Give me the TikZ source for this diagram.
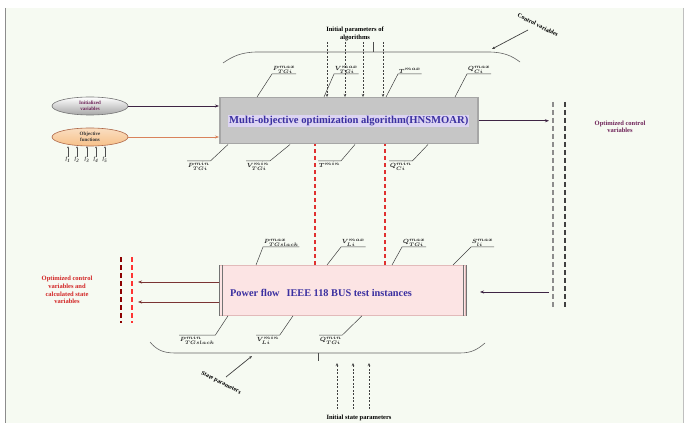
\documentclass[tikz,border=0pt]{standalone}
\usepackage{fontspec}
\setmainfont{Liberation Serif}
\usetikzlibrary{arrows.meta,shapes.geometric}
\definecolor{bgc}{HTML}{F6FAF2}
\definecolor{mainfill}{HTML}{C6C6C6}
\definecolor{mainborder}{HTML}{A6A6A6}
\definecolor{pffill}{HTML}{FCE4E4}
\definecolor{pfborder}{HTML}{E2BABA}
\definecolor{bluetxt}{HTML}{3A2FA0}
\definecolor{hlc}{HTML}{DCD4F2}
\definecolor{purp}{HTML}{6E2258}
\definecolor{redtxt}{HTML}{D22424}
\definecolor{darkred}{HTML}{7A3434}
\definecolor{orng}{HTML}{D9825B}
\definecolor{objfill}{HTML}{F6C898}
\definecolor{inarrow}{HTML}{3E2444}
\definecolor{rdc}{HTML}{E03030}
\tikzset{
  lab/.style={font=\fontsize{6.3}{7}\selectfont\bfseries\boldmath, inner sep=0.6pt, text=black!85},
  ldr/.style={draw=black!75, line width=0.5pt},
  brk/.style={draw=black!60, line width=0.6pt},
  small/.style={font=\fontsize{6.5}{7.5}\selectfont\bfseries, align=center, inner sep=0pt},
  darr/.style={draw=black!75, line width=0.7pt, dash pattern=on 2pt off 1.5pt, -{Stealth[length=3pt,width=2.5pt]}},
  rdash/.style={draw=rdc, line width=1.4pt, dash pattern=on 4pt off 3pt},
  coldash/.style={line width=1.6pt, dash pattern=on 5pt off 3pt},
  arr/.style={line width=0.8pt, -{Stealth[length=4pt,width=3pt]}},
}
\begin{document}
\begin{tikzpicture}[x=1pt,y=-1pt]
\useasboundingbox (0,0) rectangle (684,427);
\fill[white] (0,0) rectangle (684,427);
\fill[bgc] (5,8) rectangle (684,423);
\draw[black!45, line width=1pt] (5,8) -- (5,423);
\draw[black!25, line width=0.8pt] (683,8) -- (683,423);

% ---------- main box ----------
\node[draw=mainborder, fill=mainfill, line width=1.5pt, minimum width=258, minimum height=46, anchor=north west, inner sep=0] (mb) at (219,97) {};
\node[fill=hlc, inner sep=1pt, text=bluetxt, font=\fontsize{10.6}{11}\selectfont\bfseries] (mbt) at (mb.center) {Multi-objective optimization algorithm(HNSMOAR)};

% ---------- power-flow box ----------
\node[draw=pfborder, fill=pffill, line width=0.8pt, minimum width=246, minimum height=50, anchor=north west, inner sep=0] (pf) at (219,265) {};
\draw[black!55, line width=0.6pt] (pf.north west) -- (pf.south west);
\draw[black!55, line width=0.6pt] ([xshift=3pt]pf.north west) -- ([xshift=3pt]pf.south west);
\draw[black!55, line width=0.6pt] (pf.north east) -- (pf.south east);
\draw[black!55, line width=0.6pt] ([xshift=-3pt]pf.north east) -- ([xshift=-3pt]pf.south east);
\node[anchor=west, text=bluetxt, font=\fontsize{10.3}{11}\selectfont\bfseries, inner sep=0] (pft) at (230,293) {Power flow\ \ \,IEEE 118 BUS test instances};

% ---------- top bracket ----------
\draw[brk] (223,63) .. controls (233,56) and (242,52) .. (258,52) -- (488,52) .. controls (504,52) and (512,56) .. (520,62);
\node[small] (ipa) at (355,34) {Initial parameters of\\algorithms};
\coordinate (ip1) at (327,42);
\coordinate (ip2) at (345,42);
\coordinate (ip3) at (363,42);
\coordinate (ip4) at (383,42);
\foreach \c in {ip1,ip2,ip3,ip4} \draw[darr] (\c) -- (\c |- mb.north);
\draw[black!70, line width=0.6pt] (373,42) -- (373,52);

\node[small, rotate=-27, font=\fontsize{6}{7}\selectfont\bfseries] (cv) at (538,25) {Control variables};
\coordinate (cvs) at (528,30);
\coordinate (cve) at (492,49);
\draw[black!75, line width=0.7pt, -{Stealth[length=3pt,width=2.5pt]}] (cvs) -- (cve);

% ---------- main box top labels ----------
\node[lab, anchor=south west] (t1) at (272,74) {$P_{TGi}^{max}$};
\node[lab, anchor=south west] (t2) at (334,74) {$V_{TGi}^{max}$};
\node[lab, anchor=south west] (t3) at (398,74) {$T^{max}$};
\node[lab, anchor=south west] (t4) at (467,74) {$Q_{Ci}^{max}$};
\draw[ldr] (t1.south east) -- (t1.south west) -- (257,0 |- mb.north);
\draw[ldr] (t2.south east) -- (t2.south west) -- (324,0 |- mb.north);
\draw[ldr] (t3.south east) -- (t3.south west) -- (386,0 |- mb.north);
\draw[ldr] (t4.south east) -- (t4.south west) -- (455,0 |- mb.north);

% ---------- main box bottom labels ----------
\node[lab, anchor=north west] (b1) at (187,161) {$P_{TGi}^{min}$};
\node[lab, anchor=north west] (b2) at (246,161) {$V_{TGi}^{min}$};
\node[lab, anchor=north west] (b3) at (318,161) {$T^{min}$};
\node[lab, anchor=north west] (b4) at (389,161) {$Q_{Ci}^{min}$};
\draw[ldr] (b1.north west) -- (b1.north east) -- (228,0 |- mb.south);
\draw[ldr] (b2.north west) -- (b2.north east) -- (290,0 |- mb.south);
\draw[ldr] (b3.north west) -- (b3.north east) -- (355,0 |- mb.south);
\draw[ldr] (b4.north west) -- (b4.north east) -- (428,0 |- mb.south);

% ---------- red dashed links between boxes ----------
\coordinate (rd1) at (315,0 |- pf.north);
\coordinate (rd2) at (385,0 |- pf.north);
\draw[rdash] (rd1) -- (rd1 |- mb.south);
\draw[rdash] (rd2) -- (rd2 |- mb.south);

% ---------- PF top labels ----------
\node[lab, anchor=south west] (p1) at (263,247) {$P_{TGslack}^{max}$};
\node[lab, anchor=south west] (p2) at (341,247) {$V_{Li}^{max}$};
\node[lab, anchor=south west] (p3) at (402,247) {$Q_{TGi}^{max}$};
\node[lab, anchor=south west] (p4) at (471,247) {$S_{li}^{max}$};
\draw[ldr] (p1.south east) -- (p1.south west) -- (256,0 |- pf.north);
\draw[ldr] (p2.south east) -- (p2.south west) -- (327,0 |- pf.north);
\draw[ldr] (p3.south east) -- (p3.south west) -- (392,0 |- pf.north);
\draw[ldr] (p4.south east) -- (p4.south west) -- (453,0 |- pf.north);

% ---------- PF bottom labels ----------
\node[lab, anchor=north west] (q1) at (179,335) {$P_{TGslack}^{min}$};
\node[lab, anchor=north west] (q2) at (256,335) {$V_{Li}^{min}$};
\node[lab, anchor=north west] (q3) at (319,335) {$Q_{TGi}^{min}$};
\draw[ldr] (q1.north west) -- (q1.north east) -- (228,0 |- pf.south);
\draw[ldr] (q2.north west) -- (q2.north east) -- (293,0 |- pf.south);
\draw[ldr] (q3.north west) -- (q3.north east) -- (362,0 |- pf.south);

% ---------- bottom bracket ----------
\draw[brk] (150,342) .. controls (156,349) and (162,353) .. (175,353) -- (460,353) .. controls (472,353) and (478,349) .. (485,343);
\draw[black!70, line width=0.6pt] (318,353) -- (318,361);

\node[small, rotate=-27, font=\fontsize{6}{7}\selectfont\bfseries] (sp) at (221,383) {State parameters};
\coordinate (sps) at (226,377);
\coordinate (spe) at (252,356);
\draw[black!75, line width=0.7pt, -{Stealth[length=3pt,width=2.5pt]}] (sps) -- (spe);

\node[small] (isp) at (359,418) {Initial state parameters};
\coordinate (is1) at (337,409);
\coordinate (is2) at (353,409);
\coordinate (is3) at (369,409);
\foreach \c in {is1,is2,is3} \draw[darr] (\c) -- ++(0,-46);

% ---------- right column ----------
\coordinate (c1t) at (553,102);
\coordinate (c1b) at (553,308);
\coordinate (c2t) at (565,102);
\coordinate (c2b) at (565,308);
\draw[coldash, draw=black!45] (c1t) -- (c1b);
\draw[coldash, draw=black!75] (c2t) -- (c2b);
\draw[arr, draw=inarrow] (mb.east) -- (mb.east -| 549,0);
\node[small, text=purp, font=\fontsize{6.5}{7.5}\selectfont\bfseries] (ocv) at (620,127) {Optimized control\\variables};
\coordinate (ret) at (549,292);
\draw[arr, draw=inarrow] (ret) -- (480,292);

% ---------- left inputs ----------
\node[ellipse, draw=black!55, fill=white, top color=white, bottom color=black!35, line width=0.6pt, minimum width=76, minimum height=18, inner sep=0] (iv) at (90,106) {};
\node[small, text=purp, font=\fontsize{5}{5.5}\selectfont\bfseries] at (iv.center) {Initialized\\variables};
\node[ellipse, draw=orng!80!black, top color=objfill!60, bottom color=objfill!90!orange, line width=0.6pt, minimum width=76, minimum height=18, inner sep=0] (of) at (90,137) {};
\node[small, text=black!80, font=\fontsize{5}{5.5}\selectfont\bfseries] at (of.center) {Objective\\functions};
\draw[arr, draw=inarrow] (iv.east) -- (iv.east -| mb.west);
\draw[arr, draw=orng] (of.east) -- (of.east -| mb.west);
\foreach \i/\xx in {1/68,2/77,3/87,4/96,5/105} {
  \node[font=\fontsize{5}{5}\selectfont\bfseries\itshape, text=black!75, inner sep=0] (f\i) at (\xx,160) {f\textsubscript{\i}};
  \draw[black!70, line width=0.5pt, -{Stealth[length=2pt,width=2pt]}] (f\i.north) -- (\xx,0 |- of.south);
}

% ---------- left outputs ----------
\coordinate (l1t) at (121,257);
\coordinate (l1b) at (121,323);
\coordinate (l2t) at (132,257);
\coordinate (l2b) at (132,323);
\draw[coldash, line width=1.2pt, draw=red!55!black] (l1t) -- (l1b);
\draw[coldash, line width=1.2pt, draw=red!80] (l2t) -- (l2b);
\draw[arr, draw=darkred] (pf.west |- 0,282) -- (138,282);
\draw[arr, draw=darkred] (pf.west |- 0,302) -- (138,302);
\node[small, text=redtxt, font=\fontsize{6.5}{7.6}\selectfont\bfseries] (ocs) at (67,290) {Optimized control\\variables and\\calculated state\\variables};
\end{tikzpicture}
\end{document}
